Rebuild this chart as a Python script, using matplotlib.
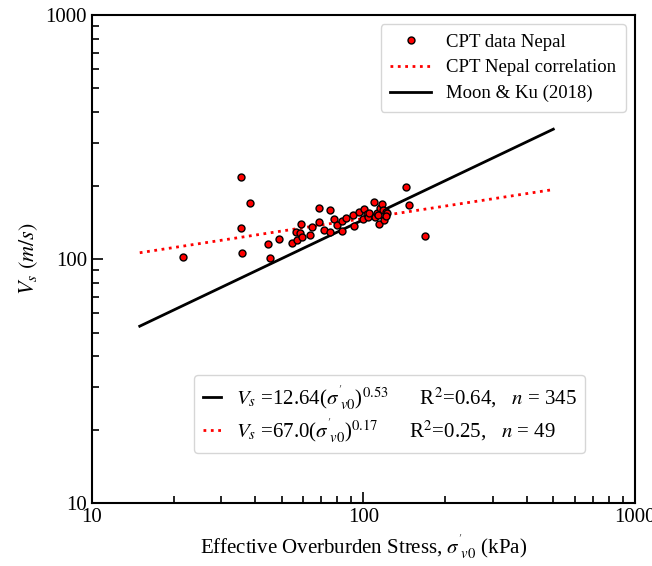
import numpy as np
import matplotlib
matplotlib.use('Agg')
import matplotlib.pyplot as plt
from matplotlib.ticker import FuncFormatter, NullFormatter

plt.rcParams['font.family'] = ['Liberation Serif', 'DejaVu Serif']
plt.rcParams['mathtext.fontset'] = 'stix'

# CPT data Nepal (sigma'_v0 kPa, Vs m/s)
stress = [35.3, 38.3, 21.7, 35.4, 35.6, 44.6, 45.1, 49.0, 54.4, 56.8,
          56.3, 58.7, 58.5, 59.5, 63.5, 64.5, 68.4, 68.8, 71.7, 75.3,
          75.5, 77.7, 79.9, 83.1, 83.5, 86.4, 91.5, 92.3, 96.0, 100.4,
          99.8, 103.0, 103.6, 109.6, 110.3, 111.8, 114.0, 115.0, 117.3, 118.3,
          119.3, 121.1, 122.4, 143.0, 146.7, 168.5, 121.0, 113.0, 105.0]
vs = [217.4, 169.6, 101.9, 133.6, 105.8, 114.9, 100.7, 120.4, 116.6, 119.6,
      129.4, 138.8, 127.8, 123.4, 125.8, 135.7, 162.2, 141.8, 131.5, 158.8,
      128.7, 146.3, 137.5, 142.7, 130.6, 147.7, 151.9, 136.6, 156.3, 160.7,
      145.5, 152.4, 149.0, 171.3, 148.2, 153.9, 139.6, 162.2, 168.5, 158.8,
      144.6, 156.3, 153.9, 196.8, 167.0, 124.3, 150.0, 151.0, 155.0]

# correlations
x_fit = np.logspace(np.log10(15), np.log10(500), 100)
moon_a, moon_b = 12.64, 0.53
nepal_a, nepal_b = 67.0, 0.17

fig, ax = plt.subplots(figsize=(6.52, 5.66), dpi=100)
fig.subplots_adjust(left=0.141, right=0.974, bottom=0.111, top=0.9735)

pts, = ax.plot(stress, vs, 'o', color='red', markeredgecolor='black',
               markersize=5, markeredgewidth=1.0, zorder=3, label='CPT data Nepal')
l_nep, = ax.plot(x_fit, nepal_a * x_fit ** nepal_b, ':', color='red', lw=2,
                 label='CPT Nepal correlation')
l_moon, = ax.plot(x_fit, moon_a * x_fit ** moon_b, '-', color='black', lw=2,
                  label='Moon & Ku (2018)')

ax.set_xscale('log')
ax.set_yscale('log')
ax.set_xlim(10, 1000)
ax.set_ylim(10, 1000)

plain = FuncFormatter(lambda v, p: '%g' % v)
ax.xaxis.set_major_formatter(plain)
ax.yaxis.set_major_formatter(plain)
ax.xaxis.set_minor_formatter(NullFormatter())
ax.yaxis.set_minor_formatter(NullFormatter())

ax.tick_params(which='both', direction='in', labelsize=15, width=1.2)
ax.tick_params(which='major', length=8)
ax.tick_params(which='minor', length=5)
for s in ax.spines.values():
    s.set_linewidth(1.5)

ax.set_xlabel(r"Effective Overburden Stress, $\sigma^{'}_{\ v0}$ (kPa)", fontsize=15)
ax.set_ylabel(r"$V_s\ (m/s)$", fontsize=16)

leg1 = ax.legend(handles=[pts, l_nep, l_moon], loc='upper right', fontsize=13.5,
                 handlelength=2.2, borderpad=0.5, labelspacing=0.45,
                 bbox_to_anchor=(1.0, 1.0))
ax.add_artist(leg1)

lab_moon = r"$V_s$ =12.64($\sigma^{'}_{\ v0}$)$^{0.53}$      R$^2$=0.64,   $n$ = 345"
lab_nep = r"$V_s$ =67.0($\sigma^{'}_{\ v0}$)$^{0.17}$      R$^2$=0.25,   $n$ = 49"
ax.legend([l_moon, l_nep], [lab_moon, lab_nep], loc='lower right', fontsize=15,
          handlelength=0.9, handletextpad=0.7, bbox_to_anchor=(0.908, 0.102),
          borderaxespad=0, labelspacing=0.2, borderpad=0.4)

plt.savefig('out.png', dpi=100)
